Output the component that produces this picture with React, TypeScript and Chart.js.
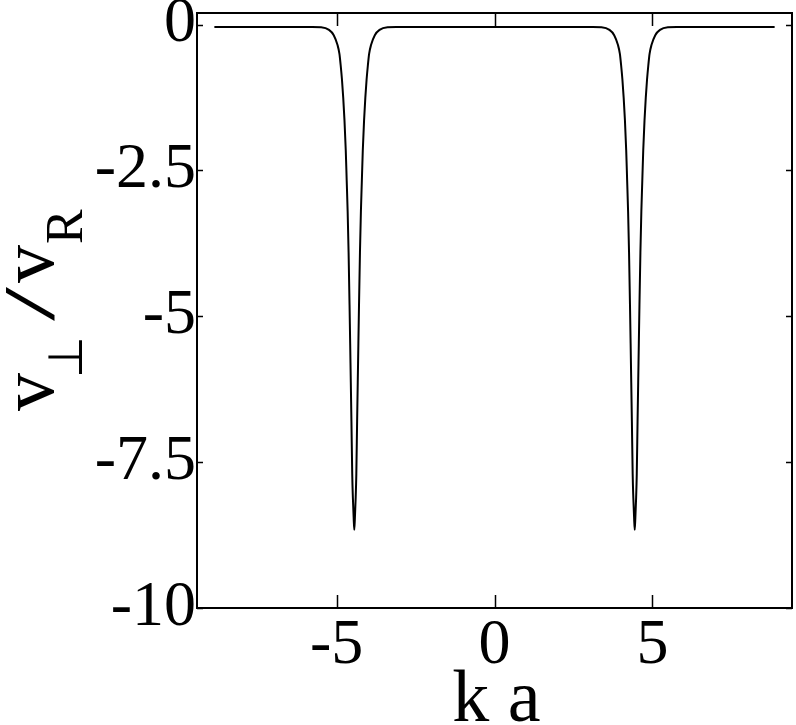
import { useEffect, useRef } from "react";
import { Chart, registerables } from "chart.js";

Chart.register(...registerables);

// k a values (x) and v_perp / v_R values (y)
const kaValues = [
  -8.87, -7.5, -6.5, -5.77, -5.49, -5.24, -5.09, -4.97, -4.91, -4.87, -4.83, -4.79, -4.75, -4.71,
  -4.68, -4.65, -4.62, -4.59, -4.56, -4.53, -4.505, -4.485, -4.46, -4.44, -4.42, -4.395, -4.375,
  -4.35, -4.32, -4.29, -4.26, -4.23, -4.2, -4.17, -4.13, -4.09, -4.05, -4.01, -3.97, -3.91, -3.79,
  -3.64, -3.39, -3.11, -2.0, -1.0, 0,
  1.0, 2.0, 3.11, 3.39, 3.64, 3.79, 3.91, 3.97, 4.01, 4.05, 4.09, 4.13, 4.17, 4.2, 4.23, 4.26,
  4.29, 4.32, 4.35, 4.375, 4.395, 4.42, 4.44, 4.46, 4.485, 4.505, 4.53, 4.56, 4.59, 4.62, 4.65,
  4.68, 4.71, 4.75, 4.79, 4.83, 4.87, 4.91, 4.97, 5.09, 5.24, 5.49, 5.77, 6.5, 7.5, 8.87,
];
const velocityRatio = [
  -0.04, -0.04, -0.04, -0.04, -0.045, -0.09, -0.18, -0.35, -0.5, -0.7, -0.94, -1.25, -1.64, -2.15,
  -2.67, -3.2, -3.9, -4.8, -5.8, -6.8, -7.7, -8.1, -8.45, -8.66, -8.45, -8.1, -7.7,
  -6.8, -5.8, -4.8, -3.9, -3.2, -2.67, -2.15, -1.64, -1.25, -0.94, -0.7, -0.5, -0.35, -0.18,
  -0.09, -0.045, -0.04, -0.04, -0.04, -0.04,
  -0.04, -0.04, -0.04, -0.045, -0.09, -0.18, -0.35, -0.5, -0.7, -0.94, -1.25, -1.64, -2.15, -2.67,
  -3.2, -3.9, -4.8, -5.8, -6.8, -7.7, -8.1, -8.45, -8.66, -8.45, -8.1, -7.7, -6.8, -5.8, -4.8,
  -3.9, -3.2, -2.67, -2.15, -1.64, -1.25, -0.94, -0.7, -0.5, -0.35, -0.18, -0.09, -0.045, -0.04,
  -0.04, -0.04, -0.04,
];

const xTicks = [-5, 0, 5];
const yTicks = [-10, -7.5, -5, -2.5, 0];
const xMin = -9.42;
const xMax = 9.42;
const yMin = -10;
const yMax = 0.2;
const xTitle = "k a";

const SERIF = "'Liberation Serif', 'Times New Roman', serif";

const framePlugin = {
  id: "frameAndTitles",
  afterDraw(chart: any) {
    const { ctx, chartArea: a, scales } = chart;
    ctx.save();
    ctx.strokeStyle = "#000";
    ctx.lineWidth = 2;
    ctx.strokeRect(a.left, a.top, a.right - a.left, a.bottom - a.top);
    ctx.lineWidth = 1.5;
    ctx.beginPath();
    for (const t of xTicks) {
      const px = Math.round(scales.x.getPixelForValue(t)) + 0.5;
      ctx.moveTo(px, a.bottom);
      ctx.lineTo(px, a.bottom - 13);
      ctx.moveTo(px, a.top);
      ctx.lineTo(px, a.top + 13);
    }
    for (const t of yTicks) {
      const py = Math.round(scales.y.getPixelForValue(t)) + 0.5;
      ctx.moveTo(a.left, py);
      ctx.lineTo(a.left + 6, py);
      ctx.moveTo(a.right, py);
      ctx.lineTo(a.right - 6, py);
    }
    ctx.stroke();

    // x title
    ctx.fillStyle = "#000";
    ctx.font = `74px ${SERIF}`;
    ctx.textAlign = "center";
    ctx.textBaseline = "alphabetic";
    ctx.fillText(xTitle, (a.left + a.right) / 2 + 2, 721);

    // y title: v⊥ / vR (rotated)
    ctx.translate(53, (a.top + a.bottom) / 2 - 1.5);
    ctx.rotate(-Math.PI / 2);
    ctx.textAlign = "left";
    ctx.font = `76px ${SERIF}`;
    ctx.fillText("v", -102, 0);
    ctx.font = "48px 'DejaVu Sans'";
    ctx.fillText("⊥", -69, 29);
    ctx.save();
    ctx.translate(-12, 0);
    ctx.scale(1.7, 1);
    ctx.font = `72px ${SERIF}`;
    ctx.fillText("/", 0, 0);
    ctx.restore();
    ctx.font = `76px ${SERIF}`;
    ctx.fillText("v", 26, 0);
    ctx.font = `52px ${SERIF}`;
    ctx.fillText("R", 65, 29);
    ctx.restore();
  },
};

export default function App() {
  const ref = useRef<HTMLCanvasElement | null>(null);
  useEffect(() => {
    if (!ref.current) return;
    const data = kaValues.map((x, i) => ({ x, y: velocityRatio[i] }));
    const chart = new Chart(ref.current, {
      type: "line",
      data: {
        datasets: [
          {
            data,
            borderColor: "#000",
            borderWidth: 2,
            pointRadius: 0,
            fill: false,
            cubicInterpolationMode: "monotone",
          },
        ],
      },
      options: {
        animation: false,
        responsive: false,
        layout: { padding: { top: 13, right: 4, left: 0, bottom: 0 } },
        plugins: { legend: { display: false }, tooltip: { enabled: false } },
        scales: {
          x: {
            type: "linear",
            min: xMin,
            max: xMax,
            afterBuildTicks: (s: any) => {
              s.ticks = xTicks.map((v) => ({ value: v }));
            },
            afterFit: (s: any) => {
              s.height = 117;
              s.paddingLeft = 0;
              s.paddingRight = 0;
            },
            grid: { display: false, drawTicks: false },
            border: { display: false },
            ticks: {
              color: "#000",
              font: { family: SERIF, size: 64 },
              padding: 0,
              maxRotation: 0,
              callback: (v: any) => String(v),
            },
          },
          y: {
            type: "linear",
            min: yMin,
            max: yMax,
            afterBuildTicks: (s: any) => {
              s.ticks = yTicks.map((v) => ({ value: v }));
            },
            afterFit: (s: any) => {
              s.width = 197;
              s.paddingTop = 0;
              s.paddingBottom = 0;
            },
            grid: { display: false, drawTicks: false },
            border: { display: false },
            ticks: {
              color: "#000",
              font: { family: SERIF, size: 64 },
              padding: 1,
              callback: (v: any) => String(v),
            },
          },
        },
      },
      plugins: [framePlugin],
    });
    return () => chart.destroy();
  }, []);
  return (
    <div style={{ position: "absolute", left: 0, top: 0, width: 796, height: 725, background: "#fff" }}>
      <canvas ref={ref} width={796} height={725} style={{ display: "block" }} />
    </div>
  );
}
